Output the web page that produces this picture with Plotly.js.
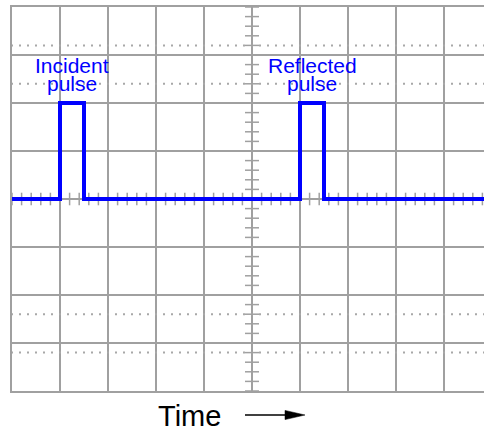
<!DOCTYPE html>
<html>
<head>
<meta charset="utf-8">
<script src="https://cdn.plot.ly/plotly-3.0.1.min.js"></script>
<style>html,body{margin:0;padding:0;background:#fff;}</style>
</head>
<body>
<div id="chart" style="width:484px;height:432px;"></div>
<script>
// Signal: time (divisions from screen centre) and amplitude (divisions)
var time = [-5.05, -4, -3.5, 1, 1.5, 5];
var volts = [0, 2, 0, 2, 0, 0];

// Pulse labels
var labelNames = ["Incident", "Reflected"];
var labelX = [-3.75, 1.25];

// Dotted rise-time reference levels (divisions)
var dottedLevels = [3.2, 2.4, -2.4, -3.2];

var GRID = '#a0a0a0';
var xMin = -5, xMax = -5 + 472 / 48;

// Graticule minor ticks on centre lines (0.2 div)
var hx = [], hy = [], vx = [], vy = [];
for (var i = 0; i <= 50; i++) { hx.push(-5 + i * 0.2); hy.push(0); }
for (var j = 0; j <= 40; j++) { vy.push(-4 + j * 0.2); vx.push(0); }

var traces = [];
dottedLevels.forEach(function (lv) {
  traces.push({
    x: [xMin - 1 / 48, xMax], y: [lv, lv], mode: 'lines', hoverinfo: 'skip',
    line: { color: '#a8a8a8', width: 2, dash: '2px,6px' }
  });
});
traces.push({
  x: hx, y: hy, mode: 'markers', hoverinfo: 'skip',
  marker: { symbol: 'line-ns', size: 9, line: { color: GRID, width: 1.5 } }
});
traces.push({
  x: vx, y: vy, mode: 'markers', hoverinfo: 'skip',
  marker: { symbol: 'line-ew', size: 10, line: { color: GRID, width: 1.5 } }
});
traces.push({
  x: time, y: volts, mode: 'lines', line: { color: '#0000ff', width: 4, shape: 'hv' }
});

var font = 'Liberation Sans, Arial, sans-serif';
var annotations = [];
labelNames.forEach(function (name, k) {
  annotations.push({ x: labelX[k], y: 2.78, xref: 'x', yref: 'y', text: name, showarrow: false,
    xanchor: 'center', yanchor: 'middle', font: { family: font, size: 21, color: '#0000ff' } });
  annotations.push({ x: labelX[k], y: 2.40, xref: 'x', yref: 'y', text: 'pulse', showarrow: false,
    xanchor: 'center', yanchor: 'middle', font: { family: font, size: 21, color: '#0000ff' } });
});
annotations.push({ x: 0.375, y: -0.066, xref: 'paper', yref: 'paper', text: 'Time', showarrow: false,
  xanchor: 'center', yanchor: 'middle', font: { family: font, size: 29, color: '#000' } });

var layout = {
  width: 484, height: 432,
  margin: { l: 12, r: 0, t: 7, b: 41, pad: 0 },
  paper_bgcolor: '#fff', plot_bgcolor: '#fff',
  showlegend: false,
  xaxis: {
    range: [xMin, xMax], tick0: 0, dtick: 1, showticklabels: false, ticks: '',
    showgrid: true, gridcolor: GRID, gridwidth: 2,
    zeroline: true, zerolinecolor: GRID, zerolinewidth: 2,
    showline: true, mirror: true, linecolor: GRID, linewidth: 2, fixedrange: true
  },
  yaxis: {
    range: [-4, 4], tick0: 0, dtick: 1, showticklabels: false, ticks: '',
    showgrid: true, gridcolor: GRID, gridwidth: 2,
    zeroline: true, zerolinecolor: GRID, zerolinewidth: 2,
    showline: true, mirror: false, linecolor: GRID, linewidth: 2, fixedrange: true
  },
  annotations: annotations,
  shapes: [
    { type: 'line', xref: 'paper', yref: 'paper', x0: 0.4936, x1: 0.585, y0: -0.0625, y1: -0.0625,
      line: { color: '#000', width: 1.5 } },
    { type: 'path', xref: 'paper', yref: 'paper',
      path: 'M 0.5784 -0.0505 L 0.6208 -0.0625 L 0.5784 -0.0745 Z',
      fillcolor: '#000', line: { color: '#000', width: 0.5 } }
  ]
};

Plotly.newPlot('chart', traces, layout, { staticPlot: true, displayModeBar: false });
</script>
</body>
</html>
